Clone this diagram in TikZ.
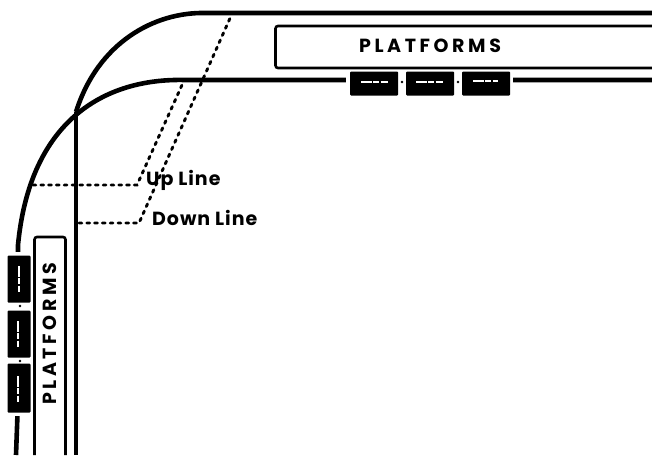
\documentclass[tikz,border=0pt]{standalone}
\usepackage{fontspec}
\setmainfont{Poppins}
\newfontfamily\platfont[LetterSpace=19]{Poppins}
\newfontfamily\linefont[LetterSpace=5]{Poppins}
\tikzset{
  track/.style={draw=black,line width=4.6pt},
  lead/.style={draw=black,line width=2.9pt,line cap=round,dash pattern=on 2.8pt off 5pt},
  platbox/.style={draw=black,line width=2.6pt,rounded corners=2.5pt},
  stairs/.style={fill=black,rounded corners=1pt},
  gap/.style={draw=white,line width=1.3pt,dash pattern=on 11pt off 1pt on 6pt off 1.5pt},
  dot/.style={fill=black,circle,inner sep=0pt,minimum size=2.8pt},
  platlabel/.style={font=\platfont\bfseries\fontsize{19}{22}\selectfont,inner sep=0pt},
  linelabel/.style={font=\linefont\bfseries\fontsize{19}{22}\selectfont,inner sep=0pt,anchor=base west}
}
\begin{document}
\begin{tikzpicture}[x=1pt,y=-1pt]
\useasboundingbox[fill=white] (0,0) rectangle (652,455);
% anchors
\coordinate (topEnd) at (652,13);
\coordinate (topBend) at (205,13);
\coordinate (cross) at (76,112);
\coordinate (lowEnd) at (652,80);
\coordinate (lowBend) at (185,80);
\coordinate (leftBend) at (18,245);
% tracks
\draw[track] (topEnd) -- (topBend) .. controls (155,12) and (98,42) .. (cross);
\draw[track] (cross) -- (76,455);
\draw[track] (lowEnd) -- (lowBend) .. controls (105,78) and (30,120) .. (leftBend) -- (18,256);
\draw[track] (17.5,414) -- (16,455);
% platforms
\draw[platbox] (652,26) -- (275.5,26) -- (275.5,68) -- (652,68);
\draw[platbox] (34.5,455) -- (34.5,237) -- (65.5,237) -- (65.5,455);
\node[platlabel] (pt) at (430,46) {PLATFORMS};
\node[platlabel,rotate=90] (pl) at (50,334) {PLATFORMS};
% station buildings, top
\fill[white] (346,70) rectangle (513,98);
\node[stairs,minimum width=48pt,minimum height=24pt,inner sep=0pt] (t1) at (374,83.5) {};
\node[stairs,minimum width=48pt,minimum height=24pt,inner sep=0pt] (t2) at (430,83.5) {};
\node[stairs,minimum width=48pt,minimum height=24pt,inner sep=0pt] (t3) at (486,83.5) {};
\draw[gap] (361,82) -- (388,82);
\draw[gap] (416,82) -- (443,82);
\draw[gap] (473,81) -- (498,81);
\node[dot] (td1) at (402,82) {};
\node[dot] (td2) at (458,82) {};
% station buildings, left
\fill[white] (4,252) rectangle (32,416);
\node[stairs,minimum width=23pt,minimum height=47pt,inner sep=0pt] (l1) at (19,279) {};
\node[stairs,minimum width=23pt,minimum height=47pt,inner sep=0pt] (l2) at (19,334) {};
\node[stairs,minimum width=23pt,minimum height=49pt,inner sep=0pt] (l3) at (19,388) {};
\draw[gap] (19,266) -- (19,292);
\draw[gap] (18,321) -- (18,347);
\draw[gap] (18,376) -- (18,402);
\node[dot] (ld1) at (20,306) {};
\node[dot] (ld2) at (20,361) {};
% leaders
\coordinate (upA) at (33,185);
\coordinate (upB) at (137,185);
\coordinate (upC) at (182,85);
\coordinate (dnA) at (79,223);
\coordinate (dnB) at (139,223);
\coordinate (dnC) at (231,16);
\draw[lead] (upA) -- (upB) -- (upC);
\draw[lead] (dnA) -- (dnB) -- (dnC);
% labels
\node[linelabel] (up) at (146,185) {Up Line};
\node[linelabel] (dn) at (152,225) {Down Line};
\end{tikzpicture}
\end{document}
